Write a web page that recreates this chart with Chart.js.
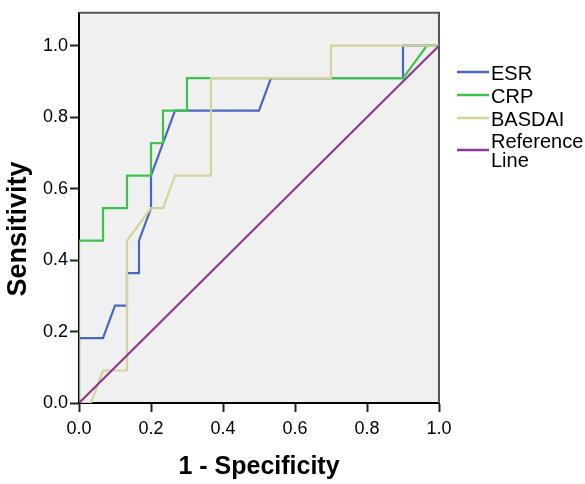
<!DOCTYPE html>
<html>
<head>
<meta charset="utf-8">
<script src="https://cdn.jsdelivr.net/npm/chart.js@4"></script>
<style>
    html, body { margin: 0; padding: 0; background: #ffffff; }
    #wrap { width: 585px; height: 484px; }
</style>
</head>
<body>
<div id="wrap"><canvas id="roc-chart"></canvas></div>
<script>
// ROC data ===========================================================//

const esrX = [0, 0, 0.0667, 0.1, 0.1333, 0.1333, 0.1667, 0.1667, 0.2, 0.2, 0.2667, 0.5, 0.5333, 0.9, 0.9, 1];
const esrY = [0, 0.1818, 0.1818, 0.2727, 0.2727, 0.3636, 0.3636, 0.4545, 0.5455, 0.6364, 0.8182, 0.8182, 0.9091, 0.9091, 1, 1];

const crpX = [0, 0, 0.0667, 0.0667, 0.1333, 0.1333, 0.2, 0.2, 0.2333, 0.2333, 0.3, 0.3, 0.9, 0.9667, 1];
const crpY = [0, 0.4545, 0.4545, 0.5455, 0.5455, 0.6364, 0.6364, 0.7273, 0.7273, 0.8182, 0.8182, 0.9091, 0.9091, 1, 1];

const basdaiX = [0, 0.0333, 0.0667, 0.1333, 0.1333, 0.2, 0.2333, 0.2667, 0.3667, 0.3667, 0.7, 0.7, 1];
const basdaiY = [0, 0, 0.0909, 0.0909, 0.4545, 0.5455, 0.5455, 0.6364, 0.6364, 0.9091, 0.9091, 1, 1];

const refX = [0, 1];
const refY = [0, 1];

const tickValues = [0, 0.2, 0.4, 0.6, 0.8, 1.0];

const seriesNames = ['ESR', 'CRP', 'BASDAI', ['Reference', 'Line']];
const seriesColors = ['#4a66c0', '#3ec24f', '#d6d29c', '#8a3b8f'];

function toPoints(xs, ys) {
    return xs.map((x, i) => ({ x: x, y: ys[i] }));
}

// plot frame + titles + legend drawn by hand ========================//

const framePlugin = {
    id: 'frame',
    beforeDatasetsDraw(chart) {
        const { ctx, chartArea: a } = chart;
        ctx.save();
        ctx.strokeStyle = '#555555';
        ctx.lineWidth = 2;
        ctx.beginPath();
        ctx.moveTo(a.left, a.top);
        ctx.lineTo(a.right, a.top);
        ctx.lineTo(a.right, a.bottom);
        ctx.stroke();
        ctx.restore();
    },
    afterDraw(chart) {
        const ctx = chart.ctx;
        ctx.save();
        ctx.fillStyle = '#000000';

        // axis titles
        ctx.textAlign = 'center';
        ctx.textBaseline = 'middle';
        ctx.font = 'bold 25px "Liberation Sans", Arial, sans-serif';
        ctx.fillText('1 - Specificity', 259, 467);
        ctx.font = 'bold 27px "Liberation Sans", Arial, sans-serif';
        ctx.translate(19, 229);
        ctx.rotate(-Math.PI / 2);
        ctx.fillText('Sensitivity', 0, 0);
        ctx.restore();

        // legend
        ctx.save();
        ctx.font = '20px "Liberation Sans", Arial, sans-serif';
        ctx.textAlign = 'left';
        ctx.textBaseline = 'middle';
        const rows = [72, 95, 118, 150];
        seriesNames.forEach((name, i) => {
            const y = rows[i];
            ctx.strokeStyle = seriesColors[i];
            ctx.lineWidth = 2.5;
            ctx.beginPath();
            ctx.moveTo(457, y);
            ctx.lineTo(489, y);
            ctx.stroke();
            ctx.fillStyle = '#000000';
            if (Array.isArray(name)) {
                ctx.fillText(name[0], 491, y - 8);
                ctx.fillText(name[1], 491, y + 11);
            } else {
                ctx.fillText(name, 491, y + 2);
            }
        });
        ctx.restore();
    }
};

const areaBgPlugin = {
    id: 'areaBg',
    beforeDraw(chart) {
        const { ctx, chartArea: a } = chart;
        ctx.save();
        ctx.fillStyle = '#f0f0f0';
        ctx.fillRect(a.left, a.top, a.right - a.left, a.bottom - a.top);
        ctx.restore();
    }
};

// chart ==============================================================//

const rocCanvas = document.getElementById('roc-chart');

const rocData = {
    datasets: [
        { label: 'ESR', data: toPoints(esrX, esrY), borderColor: seriesColors[0], order: 3 },
        { label: 'CRP', data: toPoints(crpX, crpY), borderColor: seriesColors[1], order: 2 },
        { label: 'BASDAI', data: toPoints(basdaiX, basdaiY), borderColor: seriesColors[2], order: 1 },
        { label: 'Reference Line', data: toPoints(refX, refY), borderColor: seriesColors[3], order: 0 }
    ].map(d => Object.assign(d, {
        showLine: true,
        fill: false,
        tension: 0,
        borderWidth: 2.2,
        pointRadius: 0,
        pointHoverRadius: 0
    }))
};

const tickFont = { family: '"Liberation Sans", Arial, sans-serif', size: 18 };

const rocConfig = {
    type: 'scatter',
    data: rocData,
    options: {
        responsive: false,
        animation: false,
        layout: { padding: { top: 10, right: 146, left: 0, bottom: 0 } },
        plugins: {
            legend: { display: false },
            tooltip: { enabled: false }
        },
        scales: {
            x: {
                type: 'linear',
                min: 0,
                max: 1,
                afterFit: (scale) => { scale.height = 81; },
                afterBuildTicks: (scale) => { scale.ticks = tickValues.map(v => ({ value: v })); },
                border: { display: true, color: '#000000', width: 2 },
                grid: {
                    drawOnChartArea: false,
                    drawTicks: true,
                    tickLength: 9,
                    tickColor: '#222222',
                    tickWidth: 2
                },
                ticks: {
                    color: '#000000',
                    font: tickFont,
                    padding: 6,
                    maxRotation: 0,
                    callback: (v) => Number(v).toFixed(1)
                }
            },
            y: {
                type: 'linear',
                min: 0,
                max: 1.092,
                afterFit: (scale) => { scale.width = 79; },
                afterBuildTicks: (scale) => { scale.ticks = tickValues.map(v => ({ value: v })); },
                border: { display: true, color: '#000000', width: 2 },
                grid: {
                    drawOnChartArea: false,
                    drawTicks: true,
                    tickLength: 9,
                    tickColor: '#222222',
                    tickWidth: 2
                },
                ticks: {
                    color: '#000000',
                    font: tickFont,
                    padding: 2,
                    callback: (v) => Number(v).toFixed(1)
                }
            }
        }
    },
    plugins: [areaBgPlugin, framePlugin]
};

rocCanvas.width = 585;
rocCanvas.height = 484;
const rocChart = new Chart(rocCanvas, rocConfig);
</script>
</body>
</html>
